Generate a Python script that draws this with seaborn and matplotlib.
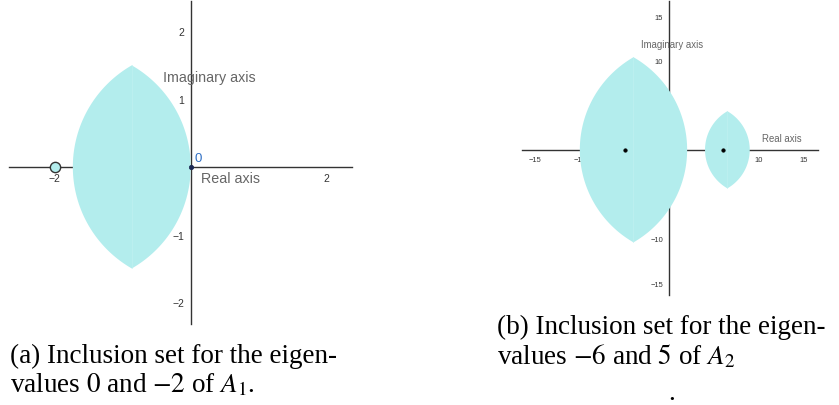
import numpy as np
import seaborn as sns
import matplotlib.pyplot as plt

# data
# lens = intersection of two equal circles (centres on the real axis, radius)
lens_a_centres = [-1.732, 0.0]
lens_a_radius = 1.732
lens_b1_centres = [-10.0, 2.0]
lens_b1_radius = 12.0
lens_b2_centres = [4.0, 9.0]
lens_b2_radius = 5.0

eig_a_open = [-2.0]      # hollow marker
eig_a_dot = [0.0]        # small labelled dot
eig_b_dots = [-5.0, 6.0]

ticks_a = [-2, -1, 1, 2]
xlabels_a = ["\u22122", "\u22121", "", "2"]   # "1" sits under the axis label
ylabels_a = ["\u22122", "\u22121", "1", "2"]
ticks_b = [-15, -10, -5, 5, 10, 15]

caption_a = ["(a) Inclusion set for the eigen-", r"values $0$ and $-2$ of $A_1$."]
caption_b = ["(b) Inclusion set for the eigen-", r"values $-6$ and $5$ of $A_2$"]

sns.set_theme(style="white")
plt.rcParams['font.family'] = ['Liberation Sans', 'DejaVu Sans']
plt.rcParams['mathtext.fontset'] = 'stix'

FILL = '#b3eded'
AXC = '#333333'
LBL = '#666666'


def lens(ax, centres, r):
    c1, c2 = centres
    xm = (c1 + c2) / 2
    th = np.arccos((xm - c1) / r)
    t1 = np.linspace(-th, th, 120)
    t2 = np.linspace(np.pi - th, np.pi + th, 120)
    xs = np.concatenate([c1 + r * np.cos(t1), c2 + r * np.cos(t2)])
    ys = np.concatenate([r * np.sin(t1), r * np.sin(t2)])
    ax.fill(xs, ys, color=FILL, lw=0, zorder=3)
    h = r * np.sin(th)
    ax.plot([xm, xm], [-h, h], color='#bff0f0', lw=0.5, zorder=3.1)


def geo_axes(ax, xlim, ylim, ticks, tsize):
    ax.set_xlim(*xlim)
    ax.set_ylim(*ylim)
    for s in ['top', 'right']:
        ax.spines[s].set_visible(False)
    for s in ['left', 'bottom']:
        ax.spines[s].set_position(('data', 0))
        ax.spines[s].set_color(AXC)
        ax.spines[s].set_linewidth(1.0)
    ax.set_xticks(ticks)
    ax.set_yticks(ticks)
    ax.tick_params(direction='out', length=2.5, width=0.7, colors=AXC,
                   labelsize=tsize, pad=2)
    ax.set_facecolor('none')


fig = plt.figure(figsize=(8.39, 4.06), dpi=100)
W, H = 839, 406

# ---- panel (a)
ax1 = fig.add_axes([9 / W, 1 - 325 / H, 343 / W, 323 / H])
geo_axes(ax1, (-2.67, 2.37), (-2.32, 2.45), ticks_a, 7.5)
ax1.set_xticklabels(xlabels_a)
ax1.set_yticklabels(ylabels_a)
lens(ax1, lens_a_centres, lens_a_radius)
sns.scatterplot(x=eig_a_open, y=[0] * len(eig_a_open), ax=ax1, s=55,
                color=FILL, edgecolor=AXC, linewidth=1.0, zorder=5)
sns.scatterplot(x=eig_a_dot, y=[0] * len(eig_a_dot), ax=ax1, s=10,
                color='#1b2a55', edgecolor='#1b2a55', linewidth=0.5, zorder=5)
ax1.text(0.063, 0.125, "0", color='#2f6fc4', fontsize=9.5, va='center', zorder=6)
ax1.text(-0.40, 1.275, "Imaginary axis", color=LBL, fontsize=10.3,
         va='baseline', zorder=6)
ax1.text(0.15, -0.226, "Real axis", color=LBL, fontsize=10.3, va='baseline',
         zorder=6)

# ---- panel (b)
ax2 = fig.add_axes([521.7 / W, 1 - 296 / H, 296 / W, 294 / H])
geo_axes(ax2, (-16.5, 16.6), (-16.3, 16.7), ticks_b, 5.4)
lens(ax2, lens_b1_centres, lens_b1_radius)
lens(ax2, lens_b2_centres, lens_b2_radius)
sns.scatterplot(x=eig_b_dots, y=[0] * len(eig_b_dots), ax=ax2, s=7,
                color='black', edgecolor='black', linewidth=0.3, zorder=5)
ax2.text(-3.2, 11.5, "Imaginary axis", color=LBL, fontsize=6.9,
         va='baseline', zorder=6)
ax2.text(10.4, 0.93, "Real axis", color=LBL, fontsize=6.9, va='baseline', zorder=6)

# ---- captions
cap = dict(fontsize=19.5, family='Liberation Serif', color='black', va='baseline')
fig.text(10 / W, 1 - 362.7 / H, caption_a[0], **cap)
fig.text(10 / W, 1 - 392.7 / H, caption_a[1], **cap)
fig.text(497 / W, 1 - 334 / H, caption_b[0], **cap)
fig.text(497 / W, 1 - 364 / H, caption_b[1], **cap)
fig.text(668 / W, 1 - 400 / H, ".", **cap)

fig.savefig("out.png", dpi=100)
